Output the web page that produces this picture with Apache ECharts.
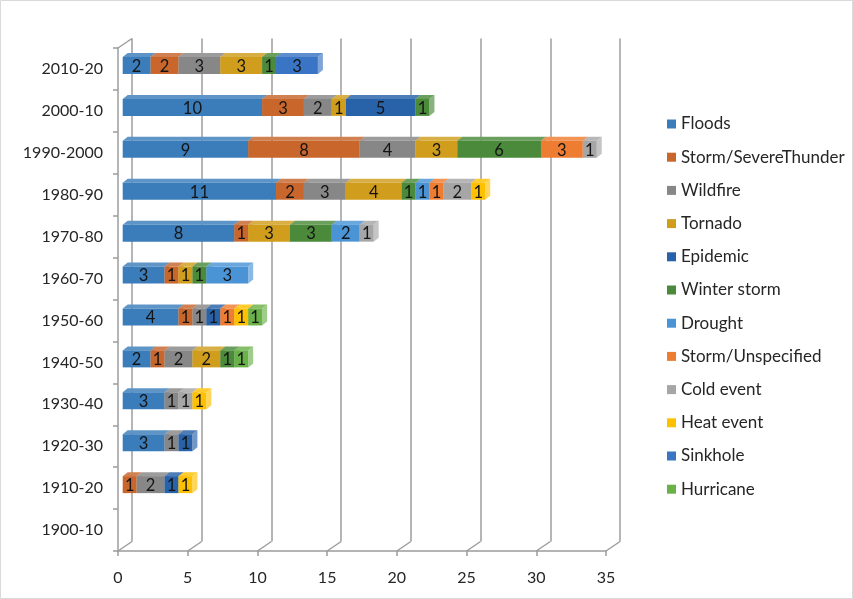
<!DOCTYPE html>
<html>
<head>
<meta charset="utf-8">
<script src="https://cdn.jsdelivr.net/npm/echarts@6/dist/echarts.min.js"></script>
<style>
  html, body { margin: 0; padding: 0; background: #fff; }
  #chart { width: 853px; height: 599px; }
</style>
</head>
<body>
<div id="chart"></div>
<script>
  // decades, bottom to top
  var categories = ['1900-10', '1910-20', '1920-30', '1930-40', '1940-50', '1950-60',
    '1960-70', '1970-80', '1980-90', '1990-2000', '2000-10', '2010-20'];

  var floods       = [0, 0, 3, 3, 2, 4, 3, 8, 11, 9, 10, 2];
  var stormSevere  = [0, 1, 0, 0, 1, 1, 1, 1, 2, 8, 3, 2];
  var wildfire     = [0, 2, 1, 1, 2, 1, 0, 0, 3, 4, 2, 3];
  var tornado      = [0, 0, 0, 0, 2, 0, 1, 3, 4, 3, 1, 3];
  var epidemic     = [0, 1, 1, 0, 0, 1, 0, 0, 0, 0, 5, 0];
  var winterStorm  = [0, 0, 0, 0, 1, 0, 1, 3, 1, 6, 1, 1];
  var drought      = [0, 0, 0, 0, 0, 0, 3, 2, 1, 0, 0, 0];
  var stormUnspec  = [0, 0, 0, 0, 0, 1, 0, 0, 1, 3, 0, 0];
  var coldEvent    = [0, 0, 0, 1, 0, 0, 0, 1, 2, 1, 0, 0];
  var heatEvent    = [0, 1, 0, 1, 0, 1, 0, 0, 1, 0, 0, 0];
  var sinkhole     = [0, 0, 0, 0, 0, 0, 0, 0, 0, 0, 0, 3];
  var hurricane    = [0, 0, 0, 0, 1, 1, 0, 0, 0, 0, 0, 0];

  var seriesNames = ['Floods', 'Storm/SevereThunder', 'Wildfire', 'Tornado', 'Epidemic', 'Winter storm',
    'Drought', 'Storm/Unspecified', 'Cold event', 'Heat event', 'Sinkhole', 'Hurricane'];
  var seriesValues = [floods, stormSevere, wildfire, tornado, epidemic, winterStorm,
    drought, stormUnspec, coldEvent, heatEvent, sinkhole, hurricane];
  var seriesColors = ['#3b7dba', '#c8662b', '#878787', '#d09e1c', '#2862a8', '#4b8a3b',
    '#4a94d6', '#ee7d32', '#a6a6a6', '#ffc000', '#3a74c4', '#6bb14a'];

  var xTicks = [0, 5, 10, 15, 20, 25, 30, 35];

  var FONT = 'Lato';
  var LINE = '#9c9c9c';
  var DEPTH_X = 14, DEPTH_Y = -9.5;
  var BAR_OX = 4.7, BAR_OY = -3.5, BAR_H = 17, BAR_DX = 5, BAR_DY = -4;

  function renderBlock (params, api) {
    var c = api.value(1);
    var a = api.coord([api.value(2), c]);
    var b = api.coord([api.value(3), c]);
    var color = api.visual('color');
    var x0 = a[0] + BAR_OX, x1 = b[0] + BAR_OX;
    var y0 = a[1] + BAR_OY - BAR_H / 2, y1 = y0 + BAR_H;
    return {
      type: 'group',
      children: [
        {
          type: 'polygon',
          shape: { points: [[x1, y0], [x1 + BAR_DX, y0 + BAR_DY], [x1 + BAR_DX, y1 + BAR_DY], [x1, y1]] },
          style: { fill: echarts.color.lift(color, 0.35) }
        },
        {
          type: 'polygon',
          shape: { points: [[x0, y0], [x0 + BAR_DX, y0 + BAR_DY], [x1 + BAR_DX, y0 + BAR_DY], [x1, y0]] },
          style: { fill: echarts.color.lift(color, 0.18) }
        },
        {
          type: 'rect',
          shape: { x: x0, y: y0, width: x1 - x0, height: BAR_H },
          style: { fill: color }
        },
        {
          type: 'text',
          style: {
            text: String(api.value(4)),
            x: (x0 + x1) / 2, y: (y0 + y1) / 2 + 1,
            align: 'center', verticalAlign: 'middle',
            fill: '#141414', fontSize: 16.5, fontFamily: FONT
          }
        }
      ]
    };
  }

  // stack the blocks of each decade in legend order
  var base = categories.map(function () { return 0; });
  var barSeries = seriesNames.map(function (name, i) {
    var data = [];
    seriesValues[i].forEach(function (v, c) {
      if (v > 0) data.push([base[c] + v, c, base[c], base[c] + v, v]);
      base[c] += v;
    });
    return {
      name: name,
      type: 'custom',
      xAxisIndex: 0,
      yAxisIndex: 0,
      clip: false,
      z: 3,
      itemStyle: { color: seriesColors[i] },
      encode: { x: [2, 3], y: 1 },
      renderItem: renderBlock,
      data: data
    };
  });

  // floor diagonals of the 3d box
  var frameSeries = {
    type: 'custom',
    xAxisIndex: 0,
    yAxisIndex: 0,
    silent: true,
    clip: false,
    z: 1,
    encode: { x: 0, y: 1 },
    renderItem: function (params, api) {
      var cs = params.coordSys;
      var x = api.coord([api.value(0), 0])[0];
      var yb = cs.y + cs.height;
      var st = { stroke: LINE, lineWidth: 1.5 };
      var children = [{ type: 'line', shape: { x1: x, y1: yb, x2: x + DEPTH_X, y2: yb + DEPTH_Y }, style: st }];
      if (api.value(0) === 0) {
        children.push({ type: 'line', shape: { x1: x, y1: cs.y, x2: x + DEPTH_X, y2: cs.y + DEPTH_Y }, style: st });
      }
      return { type: 'group', children: children };
    },
    data: xTicks.map(function (v) { return [v, 0]; })
  };

  var option = {
    animation: false,
    color: seriesColors,
    graphic: [{
      type: 'rect',
      shape: { x: 0.5, y: 0.5, width: 852, height: 598 },
      style: { fill: null, stroke: '#d9d9d9', lineWidth: 1 },
      silent: true
    }],
    legend: {
      orient: 'vertical',
      left: 662,
      top: 110,
      itemWidth: 9,
      itemHeight: 9,
      itemGap: 15.2,
      icon: 'rect',
      textStyle: { fontFamily: FONT, fontSize: 17, color: '#262626', lineHeight: 18 },
      data: seriesNames
    },
    grid: [
      { left: 118, right: 247, top: 48, bottom: 48, outerBoundsMode: 'none', containLabel: false },
      { left: 132, right: 233, top: 38.5, bottom: 57.5, outerBoundsMode: 'none', containLabel: false }
    ],
    xAxis: [
      {
        gridIndex: 0,
        type: 'value',
        min: 0,
        max: 35,
        interval: 5,
        axisLine: { show: true, lineStyle: { color: LINE, width: 1.5 } },
        axisTick: { show: true, length: 5, lineStyle: { color: LINE, width: 1.5 } },
        splitLine: { show: false },
        axisLabel: { fontFamily: FONT, fontSize: 16, color: '#262626', margin: 19 }
      },
      {
        gridIndex: 1,
        type: 'value',
        min: 0,
        max: 35,
        interval: 5,
        axisLine: { show: false },
        axisTick: { show: false },
        axisLabel: { show: false },
        splitLine: { show: true, lineStyle: { color: LINE, width: 1.5 } }
      }
    ],
    yAxis: [
      {
        gridIndex: 0,
        type: 'category',
        data: categories,
        axisLine: { show: true, lineStyle: { color: LINE, width: 1.5 } },
        axisTick: { show: true, length: 5, lineStyle: { color: LINE, width: 1.5 } },
        splitLine: { show: false },
        axisLabel: { fontFamily: FONT, fontSize: 16, color: '#262626', margin: 15 }
      },
      {
        gridIndex: 1,
        type: 'value',
        min: 0,
        max: 1,
        show: false,
        splitLine: { show: false }
      }
    ],
    series: [frameSeries].concat(barSeries)
  };

  var chart = echarts.init(document.getElementById('chart'));
  chart.setOption(option);
</script>
</body>
</html>
